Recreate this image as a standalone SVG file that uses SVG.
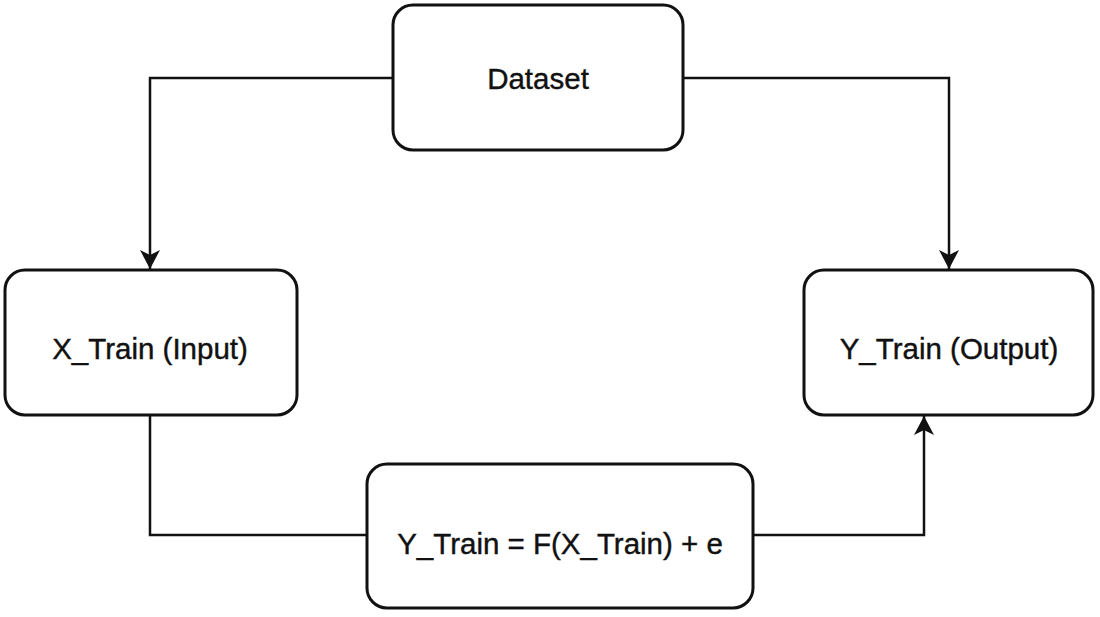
<svg xmlns="http://www.w3.org/2000/svg" width="1100" height="617" viewBox="0 0 1100 617">
<style>
.box{fill:#fff;stroke:#111;stroke-width:3}
.lbl{font-family:"Liberation Sans",Arial,sans-serif;font-size:29.5px;fill:#111;stroke:#111;stroke-width:0.4;text-anchor:middle;dominant-baseline:central}
.edge{fill:none;stroke:#111;stroke-width:2.5}
</style>
<defs>
<marker id="arrow" viewBox="0 0 20 22" refX="19" refY="11" markerWidth="20" markerHeight="22" markerUnits="userSpaceOnUse" orient="auto">
<path d="M0,1 L19,11 L0,21 L5,11 Z" fill="#111"/>
</marker>
</defs>
<rect width="1100" height="617" fill="#fff"/>
<g id="connectors">
<path class="edge" d="M393,78 H150 V269" marker-end="url(#arrow)"/>
<path class="edge" d="M683,78 H949 V269" marker-end="url(#arrow)"/>
<path class="edge" d="M150,415 V535 H367"/>
<path class="edge" d="M753,535 H924 V416" marker-end="url(#arrow)"/>
</g>
<g id="dataset">
<rect class="box" x="393" y="5" width="290" height="145" rx="20"/>
<text class="lbl" x="538" y="78">Dataset</text>
</g>
<g id="xtrain">
<rect class="box" x="5" y="270" width="292" height="145" rx="20"/>
<text class="lbl" x="150" y="348">X_Train (Input)</text>
</g>
<g id="ytrain">
<rect class="box" x="804" y="270" width="289" height="145" rx="20"/>
<text class="lbl" x="949" y="348">Y_Train (Output)</text>
</g>
<g id="model">
<rect class="box" x="367" y="464" width="386" height="144" rx="20"/>
<text class="lbl" x="560" y="543">Y_Train = F(X_Train) + e</text>
</g>
</svg>
